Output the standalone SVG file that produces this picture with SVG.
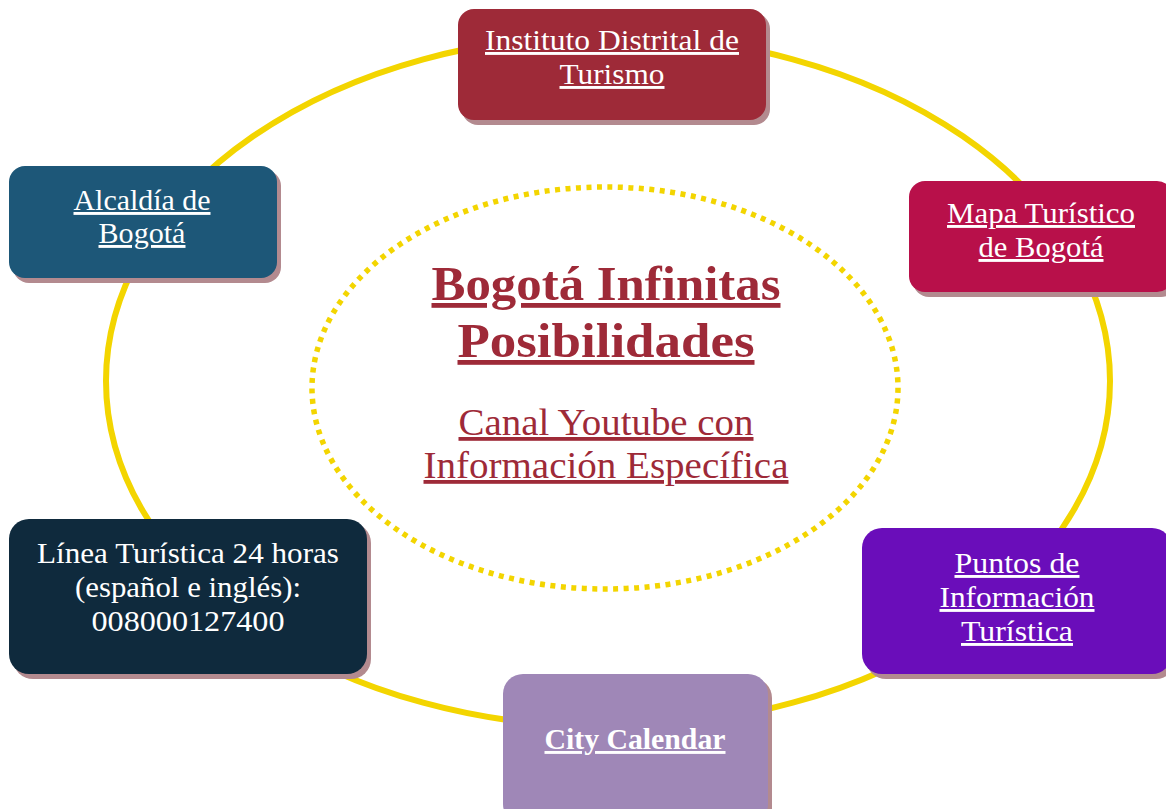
<svg xmlns="http://www.w3.org/2000/svg" width="1166" height="809" viewBox="0 0 1166 809">
<style>
.t{font-family:"Liberation Serif","Times New Roman",serif;fill:#ffffff;text-anchor:middle;font-size:29px}
.u{text-decoration:underline}
.shadow{fill:#b38a8f}
.ring{fill:none;stroke:#f3d500;stroke-width:6}
.dots{fill:none;stroke:#f3d500;stroke-width:5.5;stroke-dasharray:5 5.5}
.ct{font-family:"Liberation Serif","Times New Roman",serif;fill:#9e2a38;text-anchor:middle;text-decoration:underline}
</style>
<rect width="1166" height="809" fill="#ffffff"/>
<g id="connectors">
<ellipse class="ring" cx="608" cy="381" rx="502" ry="346"/>
</g>
<g id="center">
<ellipse class="dots" cx="605" cy="388" rx="293" ry="201"/>
<text class="ct" x="606" y="300" font-size="48" font-weight="bold" textLength="349" lengthAdjust="spacingAndGlyphs">Bogotá Infinitas</text>
<text class="ct" x="606" y="357" font-size="48" font-weight="bold" textLength="297" lengthAdjust="spacingAndGlyphs">Posibilidades</text>
<text class="ct" x="606" y="435" font-size="38" textLength="295" lengthAdjust="spacingAndGlyphs">Canal Youtube con</text>
<text class="ct" x="606" y="478" font-size="38" textLength="365" lengthAdjust="spacingAndGlyphs">Información Específica</text>
</g>
<g id="instituto">
<rect class="shadow" x="462" y="13" width="308" height="112" rx="16"/>
<rect x="458" y="9" width="308" height="111" rx="16" fill="#9e2a38"/>
<text class="t u" x="612" y="50" textLength="254" lengthAdjust="spacingAndGlyphs">Instituto Distrital de</text>
<text class="t u" x="612" y="84" textLength="105" lengthAdjust="spacingAndGlyphs">Turismo</text>
</g>
<g id="alcaldia">
<rect class="shadow" x="13" y="170" width="268" height="113" rx="16"/>
<rect x="9" y="166" width="268" height="112" rx="16" fill="#1d5778"/>
<text class="t u" x="142" y="210" textLength="137" lengthAdjust="spacingAndGlyphs">Alcaldía de</text>
<text class="t u" x="142" y="243" textLength="87" lengthAdjust="spacingAndGlyphs">Bogotá</text>
</g>
<g id="mapa">
<rect class="shadow" x="913" y="185" width="264" height="112" rx="16"/>
<rect x="909" y="181" width="264" height="111" rx="16" fill="#b8104a"/>
<text class="t u" x="1041" y="223" textLength="188" lengthAdjust="spacingAndGlyphs">Mapa Turístico</text>
<text class="t u" x="1041" y="257" textLength="125" lengthAdjust="spacingAndGlyphs">de Bogotá</text>
</g>
<g id="linea">
<rect class="shadow" x="13" y="523" width="358" height="156" rx="20"/>
<rect x="9" y="519" width="358" height="155" rx="20" fill="#0f2a3d"/>
<text class="t" x="188" y="563" textLength="302" lengthAdjust="spacingAndGlyphs">Línea Turística 24 horas</text>
<text class="t" x="188" y="597" textLength="226" lengthAdjust="spacingAndGlyphs">(español e inglés):</text>
<text class="t" x="188" y="631" textLength="193" lengthAdjust="spacingAndGlyphs">008000127400</text>
</g>
<g id="puntos">
<rect class="shadow" x="866" y="532" width="310" height="147" rx="20"/>
<rect x="862" y="528" width="310" height="146" rx="20" fill="#6a0dba"/>
<text class="t u" x="1017" y="573" textLength="125" lengthAdjust="spacingAndGlyphs">Puntos de</text>
<text class="t u" x="1017" y="607" textLength="155" lengthAdjust="spacingAndGlyphs">Información</text>
<text class="t u" x="1017" y="641" textLength="112" lengthAdjust="spacingAndGlyphs">Turística</text>
</g>
<g id="city">
<rect class="shadow" x="507" y="678" width="265" height="150" rx="20"/>
<rect x="503" y="674" width="265" height="150" rx="20" fill="#9f87b7"/>
<text class="t u" x="635" y="749" font-weight="bold" textLength="181" lengthAdjust="spacingAndGlyphs">City Calendar</text>
</g>
</svg>
